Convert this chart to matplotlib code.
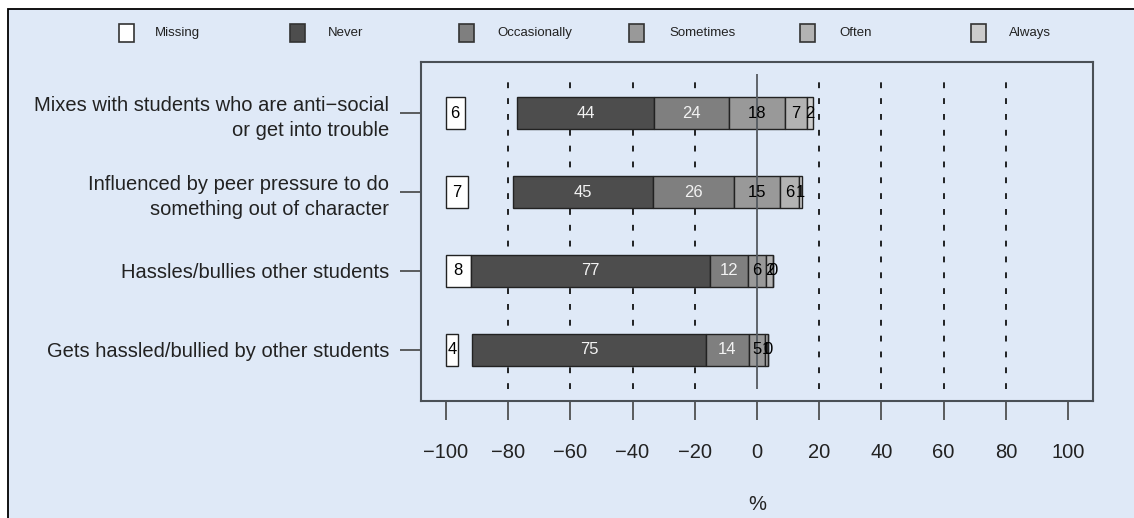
import matplotlib.pyplot as plt
import numpy as np
from matplotlib.patches import Rectangle

plt.rcParams['font.family'] = ['Liberation Sans', 'DejaVu Sans']

# data (percent), rows top to bottom
items = ["Mixes with students who are anti\u2212social\nor get into trouble",
         "Influenced by peer pressure to do\nsomething out of character",
         "Hassles/bullies other students",
         "Gets hassled/bullied by other students"]
missing = [6, 7, 8, 4]
never = [44, 45, 77, 75]
occasionally = [24, 26, 12, 14]
sometimes = [18, 15, 6, 5]
often = [7, 6, 2, 1]
always = [2, 1, 0, 0]

cats = ["Missing", "Never", "Occasionally", "Sometimes", "Often", "Always"]
cols = ["#ffffff", "#4d4d4d", "#7f7f7f", "#999999", "#b3b3b3", "#cccccc"]
txtcols = ["black", "#f2f2f2", "#f2f2f2", "black", "black", "black"]
ticks = [-100, -80, -60, -40, -20, 0, 20, 40, 60, 80, 100]

bg = "#dfe9f7"
fig = plt.figure(figsize=(11.34, 5.18), dpi=100, facecolor="white")
fig.patches.append(Rectangle((8/1134, -0.1), 1.2, 1.1 - 9/518, transform=fig.transFigure,
                             facecolor=bg, edgecolor="black", lw=1.3, zorder=-10))

ax = fig.add_axes([421/1134, 1 - 401/518, (1093 - 421)/1134, (401 - 62)/518])
ax.set_facecolor(bg)
ax.set_xlim(-108, 108)
ax.set_ylim(0.35, 4.65)

ypos = np.arange(len(items), 0, -1)

# grid
for g in ticks:
    if g in (-100, 100):
        continue
    if g == 0:
        ax.vlines(0, 0.5, 4.5, color="#555a60", lw=1.3, zorder=3)
    else:
        ax.vlines(g, 0.5, 4.5, color="black", lw=1.2, linestyles=(0, (3.5, 6)), zorder=0)

h = 0.4
fs = 12
for i, y in enumerate(ypos):
    # missing box at the left edge
    ax.barh(y, missing[i], left=-100, height=h, color=cols[0], edgecolor="#222222", lw=1, zorder=2)
    ax.text(-100 + missing[i] / 2, y, str(missing[i]), ha="center", va="center", fontsize=fs, color="black", zorder=4)
    vals = [never[i], occasionally[i], sometimes[i], often[i], always[i]]
    start = -(never[i] + occasionally[i] + sometimes[i] / 2)
    for k, v in enumerate(vals):
        ax.barh(y, v, left=start, height=h, color=cols[k + 1], edgecolor="#222222", lw=1, zorder=2)
        ax.text(start + v / 2, y, str(v), ha="center", va="center", fontsize=fs,
                color=txtcols[k + 1], zorder=4)
        start += v

ax.set_yticks(ypos)
ax.set_yticklabels(items, fontsize=14.5, color="#222222", ha="right", linespacing=1.4)
ax.set_xticks(ticks)
ax.set_xticklabels([str(t).replace("-", "\u2212") for t in ticks], fontsize=14.5, color="#222222")
ax.tick_params(axis="x", length=14, width=1.2, color="#444444", pad=16)
ax.tick_params(axis="y", length=15, width=1.2, color="#444444", pad=8)
for s in ax.spines.values():
    s.set_color("#4a5056")
    s.set_linewidth(1.5)
fig.text(757 / 1134, 1 - 505 / 518, "%", ha="center", va="center", fontsize=14.5, color="#222222")

# legend
sq_x = [126, 297, 466, 636, 807, 978]
lab_x = [155, 328, 497, 669, 839, 1009]
for c, col, sx, lx in zip(cats, cols, sq_x, lab_x):
    fig.patches.append(Rectangle((sx/1134 - 7/1134, 1 - 42/518), 15/1134, 18/518, transform=fig.transFigure,
                                 facecolor=col, edgecolor="#333333", lw=1.2))
    fig.text(lx / 1134, 1 - 33 / 518, c, ha="left", va="center", fontsize=9.5, color="#222222")

fig.savefig("out.png", dpi=100, facecolor=fig.get_facecolor())
